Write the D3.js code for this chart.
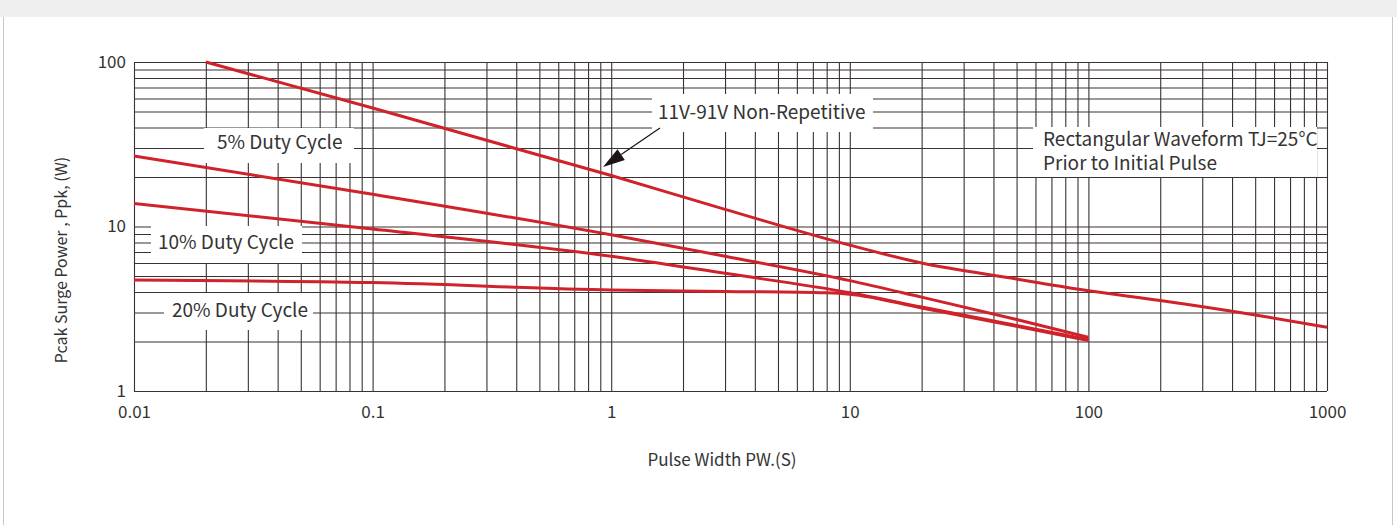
<!DOCTYPE html>
<html>
<head>
<meta charset="utf-8">
<script src="https://cdn.jsdelivr.net/npm/d3@7"></script>
<style>
  html, body { margin: 0; padding: 0; background: #fff; }
  svg { display: block; }
  text { font-family: "Noto Sans CJK SC", "Noto Sans", sans-serif; fill: #333; }
</style>
</head>
<body>
<svg id="chart" width="1397" height="525"></svg>
<script>
// ---- data ----
const xTickValues = [0.01, 0.1, 1, 10, 100, 1000];
const xTickLabels = ["0.01", "0.1", "1", "10", "100", "1000"];
const yTickValues = [1, 10, 100];
const yTickLabels = ["1", "10", "100"];

const nonRepT = [0.02, 0.1, 1, 3, 10, 20, 50, 100, 200, 500, 1000];
const nonRepP = [100, 52.5, 20.4, 12.7, 7.7, 6.0, 4.8, 4.07, 3.55, 2.9, 2.44];

const duty5T = [0.01, 0.1, 1, 3, 10, 20, 50, 100];
const duty5P = [26.8, 15.7, 8.9, 6.6, 4.69, 3.72, 2.72, 2.12];

const duty10T = [0.01, 0.1, 1, 3, 10, 20, 50, 100];
const duty10P = [13.8, 9.66, 6.59, 5.19, 3.96, 3.24, 2.5, 2.05];

const duty20T = [0.01, 0.1, 1, 3, 8, 10, 20, 50, 100];
const duty20P = [4.73, 4.56, 4.11, 4.03, 3.95, 3.88, 3.2, 2.47, 2.03];

const seriesNames = ["11V-91V Non-Repetitive", "5% Duty Cycle", "10% Duty Cycle", "20% Duty Cycle"];
const noteLines = ["Rectangular Waveform TJ=25°C", "Prior to Initial Pulse"];

// ---- layout ----
const svg = d3.select("#chart");
const W = 1397, H = 525;
const plot = { left: 134, right: 1327, top: 62, bottom: 391 };
const FONT = '"Noto Sans CJK SC", "Noto Sans", sans-serif';

// page frame
svg.append("rect").attr("x", 0).attr("y", 0).attr("width", W).attr("height", 17).attr("fill", "#efefef");
svg.append("line").attr("x1", 3.5).attr("x2", 3.5).attr("y1", 17).attr("y2", H).attr("stroke", "#c6c6c6");
svg.append("line").attr("x1", 1392.5).attr("x2", 1392.5).attr("y1", 17).attr("y2", H).attr("stroke", "#c6c6c6");

const x = d3.scaleLog().domain([0.01, 1000]).range([plot.left, plot.right]);
const y = d3.scaleLog().domain([1, 100]).range([plot.bottom, plot.top]);

const gridColor = "#3a3232";

// vertical grid
const gx = svg.append("g").attr("transform", `translate(0,${plot.bottom})`)
  .call(d3.axisBottom(x).tickValues(x.ticks()).tickSize(-(plot.bottom - plot.top)).tickFormat(""));
gx.select(".domain").remove();
gx.selectAll(".tick line").attr("stroke", gridColor).attr("stroke-width", 1.1);

// horizontal grid
const gy = svg.append("g").attr("transform", `translate(${plot.left},0)`)
  .call(d3.axisLeft(y).tickValues(y.ticks()).tickSize(-(plot.right - plot.left)).tickFormat(""));
gy.select(".domain").remove();
gy.selectAll(".tick line").attr("stroke", gridColor).attr("stroke-width", 1.1);

// axis labels
const ax = svg.append("g").attr("transform", `translate(0,${plot.bottom})`)
  .call(d3.axisBottom(x).tickValues(xTickValues).tickFormat((d, i) => xTickLabels[i]).tickSize(0).tickPadding(15));
ax.select(".domain").remove();
ax.selectAll("text").attr("font-size", 17).attr("fill", "#333").attr("font-family", FONT);

const ay = svg.append("g").attr("transform", `translate(${plot.left},0)`)
  .call(d3.axisLeft(y).tickValues(yTickValues).tickFormat((d, i) => yTickLabels[i]).tickSize(0).tickPadding(8));
ay.select(".domain").remove();
ay.selectAll("text").attr("font-size", 17).attr("fill", "#333").attr("font-family", FONT);

// axis titles
svg.append("text").attr("x", 722).attr("y", 466).attr("text-anchor", "middle")
  .attr("font-size", 17).text("Pulse Width PW.(S)");
svg.append("text").attr("transform", "translate(67,260) rotate(-90)").attr("text-anchor", "middle")
  .attr("font-size", 16).text("Pcak Surge Power , Ppk, (W)");

// label boxes (white, cover the grid)
const boxes = [
  { x0: 204, y0: 128, x1: 354, y1: 163 },
  { x0: 151, y0: 226, x1: 302, y1: 263 },
  { x0: 164, y0: 293, x1: 313, y1: 330 },
  { x0: 652, y0: 94, x1: 873, y1: 132 },
  { x0: 1033, y0: 127, x1: 1317, y1: 177 }
];
svg.append("g").selectAll("rect").data(boxes).join("rect")
  .attr("x", d => d.x0).attr("y", d => d.y0)
  .attr("width", d => d.x1 - d.x0).attr("height", d => d.y1 - d.y0)
  .attr("fill", "#fff");

// curves
const series = [
  { t: nonRepT, p: nonRepP },
  { t: duty5T, p: duty5P },
  { t: duty10T, p: duty10P },
  { t: duty20T, p: duty20P }
];
const line = d3.line().x(d => x(d[0])).y(d => y(d[1])).curve(d3.curveMonotoneX);
svg.append("g").selectAll("path").data(series).join("path")
  .attr("d", s => line(s.t.map((t, i) => [t, s.p[i]])))
  .attr("fill", "none").attr("stroke", "#d0222a").attr("stroke-width", 3)
  .attr("stroke-linejoin", "round").attr("stroke-linecap", "butt");

// annotation texts
const labels = [
  { text: seriesNames[1], x: 217, y: 149 },
  { text: seriesNames[2], x: 158, y: 249 },
  { text: seriesNames[3], x: 172, y: 317 },
  { text: seriesNames[0], x: 658, y: 119 },
  { text: noteLines[0], x: 1043, y: 146 },
  { text: noteLines[1], x: 1043, y: 170 }
];
svg.append("g").selectAll("text").data(labels).join("text")
  .attr("x", d => d.x).attr("y", d => d.y).attr("font-size", 19).text(d => d.text);

// arrow
const ax0 = 660, ay0 = 128, ax1 = 603, ay1 = 167;
const ang = Math.atan2(ay1 - ay0, ax1 - ax0);
const hl = 22, hw = 6.5;
const bx = ax1 - hl * Math.cos(ang), by = ay1 - hl * Math.sin(ang);
svg.append("line").attr("x1", ax0).attr("y1", ay0).attr("x2", bx).attr("y2", by)
  .attr("stroke", "#1a1414").attr("stroke-width", 1.2);
svg.append("path")
  .attr("d", `M${ax1},${ay1} L${bx + hw * Math.sin(ang)},${by - hw * Math.cos(ang)} L${bx - hw * Math.sin(ang)},${by + hw * Math.cos(ang)} Z`)
  .attr("fill", "#1a1414");
</script>
</body>
</html>
